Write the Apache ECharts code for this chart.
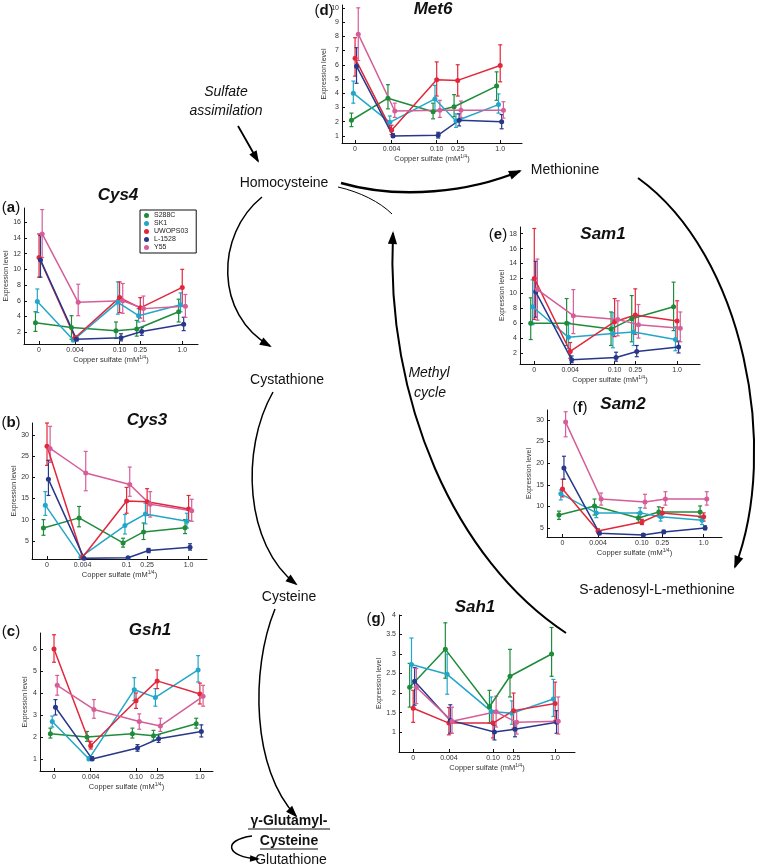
<!DOCTYPE html>
<html><head><meta charset="utf-8">
<script src="https://cdn.jsdelivr.net/npm/echarts@6.0.0/dist/echarts.min.js"></script>
<style>html,body{margin:0;padding:0;background:#fff}#c{width:760px;height:867px}</style>
</head><body><div id="c"></div>
<script>
// ---------- DATA ----------
const strains = ['S288C', 'SK1', 'UWOPS03', 'L-1528', 'Y55'];
const concentrations = [0, 0.004, 0.10, 0.25, 1.0];          // mM, plotted as mM^(1/4)
const concTickLabels = ['0', '0.004', '0.10', '0.25', '1.0'];
const cys3TickLabels = ['0', '0.004', '0.1', '0.25', '1.0'];
const genes = ['Cys4', 'Cys3', 'Gsh1', 'Met6', 'Sam1', 'Sam2', 'Sah1'];
const panelLetters = ['a', 'b', 'c', 'd', 'e', 'f', 'g'];

// rows = strains (S288C, SK1, UWOPS03, L-1528, Y55), cols = concentrations
const cys4Mean = [[3.2,2.6,2.2,2.4,4.6],[5.9,1.0,5.8,4.1,5.5],[11.5,1.3,6.4,5.1,7.7],[11.2,1.1,1.3,2.1,3.0],[14.5,5.8,6.0,5.0,5.3]];
const cys4Low  = [[2.1,1.1,1.2,1.5,3.3],[4.5,0.8,4.3,3.3,4.6],[9.0,1.1,4.5,3.8,5.4],[9.0,0.9,0.9,1.6,2.2],[11.5,4.1,4.4,3.4,3.9]];
const cys4High = [[4.6,4.1,3.3,3.5,6.2],[7.5,1.3,8.4,5.0,7.0],[14.5,1.5,8.4,6.4,10.0],[14.3,1.3,1.8,2.6,3.9],[17.6,8.1,8.2,6.6,6.8]];

const cys3Mean = [[8.0,10.4,4.5,7.1,8.1],[13.4,1.2,8.6,11.3,9.6],[27.3,1.1,14.4,14.2,12.5],[19.5,0.9,1.0,2.7,3.5],[26.8,21.0,18.3,13.6,12.1]];
const cys3Low  = [[6.3,8.3,3.5,5.3,6.7],[11.0,1.0,6.6,9.0,8.0],[22.8,0.9,11.5,11.0,9.8],[15.7,0.8,0.9,2.2,2.8],[23.5,16.8,15.5,10.6,9.6]];
const cys3High = [[10.0,13.1,5.6,9.2,10.0],[16.6,1.4,11.2,13.9,11.5],[32.8,1.3,17.6,17.3,15.7],[24.0,1.0,1.1,3.2,4.3],[32.0,26.1,22.4,16.6,14.8]];

const gsh1Mean = [[2.15,2.0,2.15,2.05,2.6],[2.7,1.0,4.15,3.8,5.05],[6.0,1.6,3.65,4.55,3.95],[3.35,1.0,1.5,1.92,2.25],[4.35,3.25,2.7,2.5,3.85]];
const gsh1Low  = [[1.95,1.8,1.95,1.85,2.4],[2.45,0.93,3.65,3.4,4.5],[5.4,1.45,3.3,4.2,3.5],[3.0,0.93,1.35,1.75,2.0],[3.9,2.85,2.35,2.25,3.4]];
const gsh1High = [[2.4,2.25,2.4,2.3,2.85],[2.95,1.1,4.7,4.2,5.7],[6.65,1.8,4.0,5.05,4.45],[3.7,1.1,1.65,2.1,2.55],[4.8,3.7,3.05,2.85,4.35]];

const met6Mean = [[2.1,3.65,2.7,3.05,4.5],[4.0,1.95,3.6,2.05,3.2],[6.45,1.4,4.95,4.9,5.95],[5.9,1.0,1.05,2.1,2.0],[8.15,2.75,2.8,2.8,2.8]];
const met6Low  = [[1.65,2.9,2.2,2.35,3.5],[3.3,1.55,2.8,1.6,2.6],[5.2,1.1,3.8,3.8,4.8],[4.7,0.9,0.85,1.7,1.5],[6.3,2.3,2.3,2.3,2.25]];
const met6High = [[2.6,4.6,3.3,3.9,5.5],[4.85,2.4,4.55,2.55,3.95],[7.9,1.75,6.2,6.0,7.4],[7.2,1.15,1.25,2.55,2.5],[10.0,3.3,3.5,3.45,3.4]];

const sam1Mean = [[6.0,6.0,5.2,6.6,8.2],[8.2,4.1,4.6,4.8,3.8],[12.0,2.2,6.2,7.1,6.3],[10.2,1.1,1.4,2.2,2.8],[10.5,7.0,6.5,5.8,5.3]];
const sam1Low  = [[3.8,3.0,3.0,3.5,5.0],[5.8,2.6,2.7,3.0,2.3],[6.5,1.3,4.2,4.5,3.5],[6.8,0.7,0.9,1.5,2.0],[6.4,4.6,4.3,4.0,3.5]];
const sam1High = [[9.4,9.3,7.5,9.7,11.5],[11.8,6.1,7.4,7.0,5.5],[18.7,3.4,9.3,10.6,9.0],[14.3,1.6,2.1,3.0,3.6],[14.6,10.5,9.0,8.5,7.5]];

const sam2Mean = [[8.0,10.1,7.3,8.7,8.7],[12.9,8.5,8.5,7.6,6.8],[14.0,4.3,6.4,8.5,7.6],[18.9,3.8,3.4,4.1,5.0],[29.5,11.7,11.0,11.7,11.7]];
const sam2Low  = [[7.0,8.0,6.2,7.6,7.4],[11.5,7.4,7.4,6.6,5.8],[12.2,3.9,5.8,7.4,6.6],[16.3,3.5,3.2,3.8,4.6],[26.1,10.3,9.6,10.3,10.3]];
const sam2High = [[8.9,11.7,8.5,9.9,10.1],[13.8,9.7,9.7,8.5,7.6],[16.3,4.8,7.0,9.7,8.5],[21.6,4.2,3.7,4.5,5.5],[31.9,13.1,12.8,13.4,13.4]];

const sah1Mean = [[2.15,3.12,1.65,2.43,3.0],[2.73,2.48,1.53,1.48,1.85],[1.61,1.23,1.23,1.55,1.73],[2.3,1.3,1.0,1.07,1.25],[2.15,1.28,1.52,1.25,1.28]];
const sah1Low  = [[1.64,2.38,1.23,1.9,2.43],[2.15,1.97,1.23,1.2,1.4],[1.25,0.93,0.85,1.1,1.3],[1.69,0.97,0.8,0.88,0.97],[1.73,0.97,1.13,0.95,0.95]];
const sah1High = [[2.76,3.8,2.07,3.12,3.68],[3.41,3.0,1.9,1.8,2.35],[2.07,1.63,1.55,2.0,2.28],[2.65,1.7,1.18,1.27,1.55],[2.63,1.64,1.92,1.55,1.9]];

const cys4YTicks = [2,4,6,8,10,12,14,16];
const cys3YTicks = [5,10,15,20,25,30];
const gsh1YTicks = [1,2,3,4,5,6];
const met6YTicks = [1,2,3,4,5,6,7,8,9,10];
const sam1YTicks = [2,4,6,8,10,12,14,16,18];
const sam2YTicks = [5,10,15,20,25,30];
const sah1YTicks = [1,1.5,2,2.5,3,3.5,4];

const pathwayNodes = ['Homocysteine', 'Methionine', 'Cystathione', 'Cysteine', 'Glutathione', 'S-adenosyl-L-methionine'];

// ---------- STYLE / LAYOUT ----------
const strainColors = ['#1f8c3b', '#22a7c8', '#e2273b', '#27378a', '#d65e98'];
const strainOffset = [-0.025, -0.012, 0, 0.01, 0.022];
const FONT = '"Liberation Sans", Arial, sans-serif';

const panels = [
  {box:[24,208,174,136], x:[-0.105,1.11], y:[0.5,17.8], mean:cys4Mean, low:cys4Low, high:cys4High, yt:cys4YTicks, xl:concTickLabels, title:[118,195], letter:[11,208]},
  {box:[32,423,175,136], x:[-0.106,1.13], y:[0.7,32.8], mean:cys3Mean, low:cys3Low, high:cys3High, yt:cys3YTicks, xl:cys3TickLabels, title:[147,420], letter:[11,423]},
  {box:[40,633,173,138], x:[-0.096,1.09], y:[0.45,6.73], mean:gsh1Mean, low:gsh1Low, high:gsh1High, yt:gsh1YTicks, xl:concTickLabels, title:[150,630], letter:[11,632]},
  {box:[342,5,180,138], x:[-0.09,1.15], y:[0.5,10.2], mean:met6Mean, low:met6Low, high:met6High, yt:met6YTicks, xl:concTickLabels, title:[433,9], letter:[324,11]},
  {box:[520,227,180,137], x:[-0.1,1.16], y:[0.52,18.9], mean:sam1Mean, low:sam1Low, high:sam1High, yt:sam1YTicks, xl:concTickLabels, title:[603,234], letter:[498,235]},
  {box:[547,410,175,127], x:[-0.11,1.13], y:[2.92,32.3], mean:sam2Mean, low:sam2Low, high:sam2High, yt:sam2YTicks, xl:concTickLabels, title:[623,404], letter:[580,408]},
  {box:[399,615,176,137], x:[-0.1,1.14], y:[0.49,4.0], mean:sah1Mean, low:sah1Low, high:sah1High, yt:sah1YTicks, xl:concTickLabels, title:[475,607], letter:[376,619]}
];

const xPos = concentrations.map(c => Math.pow(c, 0.25));

const grid = [], xAxis = [], yAxis = [], series = [];
panels.forEach((p, i) => {
  grid.push({left:p.box[0], top:p.box[1], width:p.box[2], height:p.box[3], containLabel:false});
  xAxis.push({
    gridIndex:i, type:'value', min:p.x[0], max:p.x[1],
    axisLine:{onZero:false, lineStyle:{color:'#111', width:1}},
    axisTick:{inside:true, length:3, customValues:xPos, lineStyle:{color:'#111'}},
    axisLabel:{customValues:xPos, fontSize:7, color:'#333', margin:3, fontFamily:FONT,
      formatter:(v) => { let k = 0, d = 9; xPos.forEach((q, j) => { if (Math.abs(q - v) < d) { d = Math.abs(q - v); k = j; } }); return p.xl[k]; }},
    splitLine:{show:false},
    name:'Copper sulfate (mM{sup|1/4})', nameLocation:'middle', nameGap:11,
    nameTextStyle:{fontSize:7.5, color:'#333', fontFamily:FONT, rich:{sup:{fontSize:5, color:'#333', padding:[0,0,5,0], fontFamily:FONT}}}
  });
  yAxis.push({
    gridIndex:i, type:'value', min:p.y[0], max:p.y[1],
    axisLine:{show:true, onZero:false, lineStyle:{color:'#111', width:1}},
    axisTick:{show:true, inside:true, length:3, customValues:p.yt, lineStyle:{color:'#111'}},
    axisLabel:{customValues:p.yt, fontSize:7, color:'#333', margin:3, fontFamily:FONT},
    splitLine:{show:false},
    name:'Expression level', nameLocation:'middle', nameGap:11, nameRotate:90,
    nameTextStyle:{fontSize:7, color:'#333', fontFamily:FONT}
  });
  strains.forEach((s, k) => {
    const col = strainColors[k];
    series.push({
      type:'custom', xAxisIndex:i, yAxisIndex:i, silent:true, z:2,
      data: xPos.map((x, j) => [x + strainOffset[k], p.low[k][j], p.high[k][j]]),
      encode:{x:0, y:[1,2]},
      renderItem:(params, api) => {
        const x = api.value(0), lo = api.value(1), hi = api.value(2);
        const a = api.coord([x, lo]), b = api.coord([x, hi]);
        const st = {stroke:col, lineWidth:1.2};
        return {type:'group', children:[
          {type:'line', shape:{x1:a[0], y1:a[1], x2:b[0], y2:b[1]}, style:st},
          {type:'line', shape:{x1:a[0]-2, y1:a[1], x2:a[0]+2, y2:a[1]}, style:st},
          {type:'line', shape:{x1:b[0]-2, y1:b[1], x2:b[0]+2, y2:b[1]}, style:st}
        ]};
      }
    });
    series.push({
      type:'line', name:s, xAxisIndex:i, yAxisIndex:i, z:3,
      data: xPos.map((x, j) => [x + strainOffset[k], p.mean[k][j]]),
      symbol:'circle', symbolSize:5, showSymbol:true,
      itemStyle:{color:col}, lineStyle:{color:col, width:1.5}
    });
  });
});

// ---------- PATHWAY GRAPHICS ----------
const graphic = [];
function txt(t, x, y, extra) {
  graphic.push({type:'text', x:x, y:y, style:Object.assign({text:t, x:0, y:0, align:'center', verticalAlign:'middle', fontSize:14, fontFamily:FONT, fill:'#111'}, extra || {})});
}
function curve(p0, c1, c2, p1, w, head) {
  graphic.push({type:'bezierCurve', shape:{x1:p0[0], y1:p0[1], cpx1:c1[0], cpy1:c1[1], cpx2:c2[0], cpy2:c2[1], x2:p1[0], y2:p1[1]}, style:{stroke:'#000', lineWidth:w, fill:null}});
  if (head) {
    const dx = p1[0] - c2[0], dy = p1[1] - c2[1], L = Math.hypot(dx, dy);
    const ux = dx / L, uy = dy / L, s = head;
    const bx = p1[0] - ux * s, by = p1[1] - uy * s, px = -uy * s * 0.42, py = ux * s * 0.42;
    graphic.push({type:'polygon', shape:{points:[[p1[0] + ux * 2, p1[1] + uy * 2], [bx + px, by + py], [bx - px, by - py]]}, style:{fill:'#000'}});
  }
}

panels.forEach((p, i) => {
  txt(genes[i], p.title[0], p.title[1], {fontSize:17, fontWeight:'bold', fontStyle:'italic'});
  txt('({b|' + panelLetters[i] + '})', p.letter[0], p.letter[1], {fontSize:15, rich:{b:{fontSize:15, fontWeight:'bold', fontFamily:FONT, fill:'#111'}}});
});

txt('Sulfate', 226, 92, {fontStyle:'italic'});
txt('assimilation', 226, 111, {fontStyle:'italic'});
txt(pathwayNodes[0], 284, 183);
txt(pathwayNodes[1], 565, 170);
txt(pathwayNodes[2], 287, 380);
txt(pathwayNodes[3], 289, 597);
txt('γ-Glutamyl-', 289, 821, {fontWeight:'bold'});
txt('Cysteine', 289, 841, {fontWeight:'bold'});
txt(pathwayNodes[4], 291, 860);
txt(pathwayNodes[5], 657, 590);
txt('Methyl', 429, 373, {fontStyle:'italic'});
txt('cycle', 430, 393, {fontStyle:'italic'});
// underline for γ-Glutamyl-Cysteine
graphic.push({type:'line', shape:{x1:248, y1:829, x2:330, y2:829}, style:{stroke:'#111', lineWidth:1.2}});
graphic.push({type:'line', shape:{x1:260, y1:849, x2:318, y2:849}, style:{stroke:'#111', lineWidth:1.2}});

curve([238,126], [245,138], [251,149], [258,161], 1.8, 10);
curve([341,183], [400,200], [470,192], [520,171], 2.4, 11);
curve([638,178], [745,255], [780,450], [735,567], 2, 11);
curve([566,633], [455,560], [385,400], [393,233], 2, 11);
curve([338,187], [360,192], [380,202], [392,214], 1, 0);
curve([262,197], [215,235], [215,315], [270,346], 1.5, 10);
curve([273,392], [240,450], [245,545], [296,584], 1.5, 10);
curve([275,609], [250,670], [252,770], [296,816], 1.5, 10);
curve([252,836], [222,840], [226,857], [258,859], 1.5, 8);

const chart = echarts.init(document.getElementById('c'), null, {renderer:'canvas'});
chart.setOption({
  backgroundColor:'#fff',
  animation:false,
  textStyle:{fontFamily:FONT},
  legend:{
    data:strains, orient:'vertical', left:140, top:210, icon:'circle',
    itemWidth:5, itemHeight:5, itemGap:1, padding:[2,8,2,4],
    borderColor:'#111', borderWidth:1, backgroundColor:'#fff',
    textStyle:{fontSize:7, color:'#222', fontFamily:FONT, lineHeight:7}
  },
  grid, xAxis, yAxis, series, graphic
});
</script></body></html>
